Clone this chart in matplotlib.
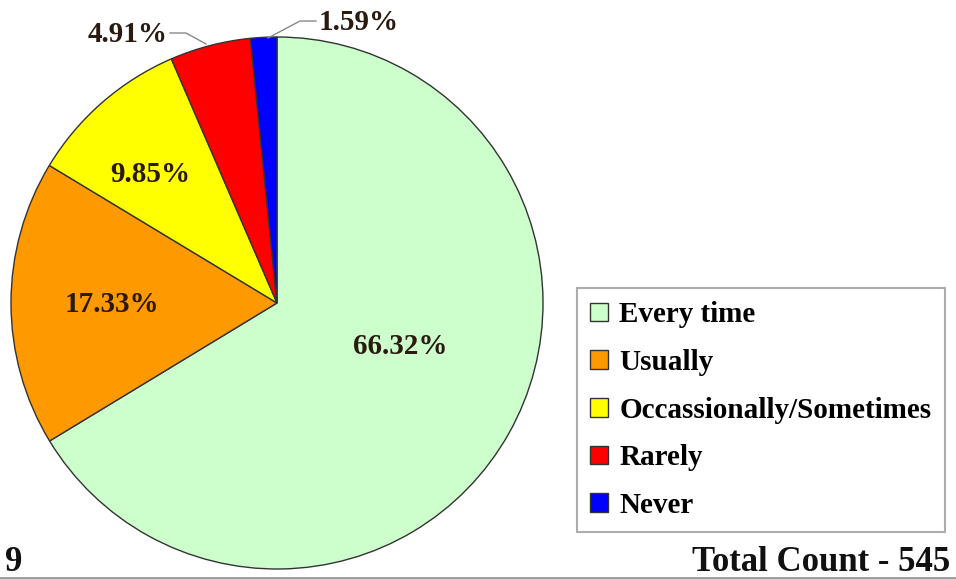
import matplotlib.pyplot as plt
import numpy as np

# survey answers
categories = ['Every time', 'Usually', 'Occassionally/Sometimes', 'Rarely', 'Never']
percents = [66.32, 17.33, 9.85, 4.91, 1.59]
colors = ['#CCFFCC', '#FF9900', '#FFFF00', '#FF0000', '#0000FF']
total_count = 545
page_no = '9'

W, H = 956, 579
fig = plt.figure(figsize=(W / 100, H / 100), dpi=100)
ax = fig.add_axes([0, 0, 1, 1])

cx, cy, r = 277, H - 303, 266
wedges, _ = ax.pie(percents, colors=colors, startangle=90, counterclock=False,
                   center=(cx, cy), radius=r, frame=True,
                   wedgeprops=dict(edgecolor='#333333', linewidth=1.0))
ax.set_xlim(0, W)
ax.set_ylim(0, H)
ax.set_aspect('equal')
ax.axis('off')

serif = 'Liberation Serif'
lbl_color = '#2a1a10'
fs = 21

# inside labels
inside_pos = [(400, 347), (112, 304), (150, 175)]
for p, (x, y) in zip(percents[:3], inside_pos):
    ax.text(x, H - y, f'{p:.2f}%', ha='center', va='center', fontsize=fs,
            fontweight='bold', family=serif, color=lbl_color)

# outside labels with leader lines
ax.text(168, H - 35, f'{percents[3]:.2f}%', ha='right', va='center', fontsize=fs,
        fontweight='bold', family=serif, color=lbl_color)
ax.plot([170, 186, 206], [H - 33, H - 33, H - 44], color='#888888', lw=1)
ax.text(319, H - 22, f'{percents[4]:.2f}%', ha='left', va='center', fontsize=fs,
        fontweight='bold', family=serif, color=lbl_color)
ax.plot([316, 300, 268], [H - 21, H - 21, H - 38], color='#888888', lw=1)

leg = ax.legend(wedges, categories, loc='upper left',
                bbox_to_anchor=(577 / W, 1 - 288 / H), bbox_transform=fig.transFigure,
                frameon=True, fancybox=False, shadow=False, handlelength=0.6,
                handleheight=0.6, handletextpad=0.4, labelspacing=0.71,
                borderpad=0.45, borderaxespad=0,
                prop=dict(family=serif, weight='bold', size=fs))
leg.get_frame().set_edgecolor('#999999')
leg.get_frame().set_linewidth(1.5)

ax.text(5, H - 571, page_no, ha='left', va='baseline', fontsize=25,
        fontweight='bold', family=serif, color='#111111')
ax.text(950, H - 571, f'Total Count - {total_count}', ha='right', va='baseline',
        fontsize=25, fontweight='bold', family=serif, color='#111111')
ax.plot([0, W], [1, 1], color='#999999', lw=2)

fig.savefig('out.png', dpi=100)
